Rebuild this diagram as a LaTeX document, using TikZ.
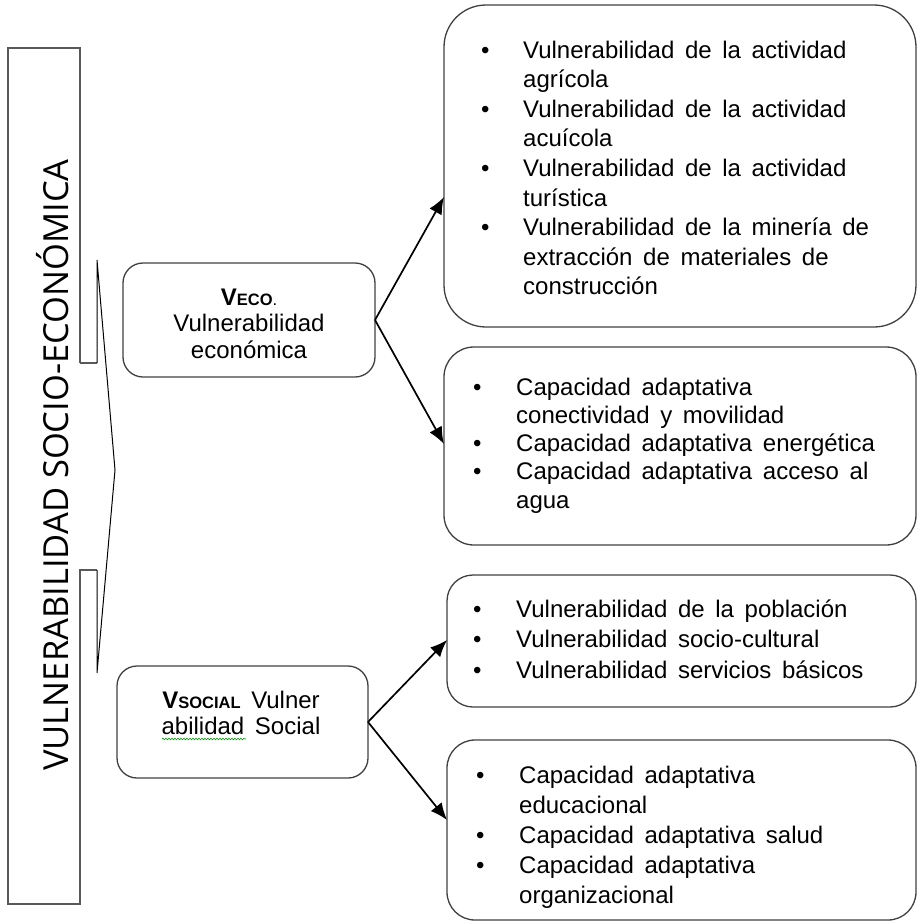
\documentclass[tikz,border=0pt]{standalone}
\usepackage{fontspec}
\setmainfont{Liberation Sans}[WordSpace=1.6]
\newfontfamily\titlefont{Open Sans}
\usetikzlibrary{arrows.meta,decorations.pathmorphing}
\newcommand\bul[1]{\makebox[#1][l]{•}}
\newcommand\ind[1]{\hspace*{#1}}
\newcommand\cl[1]{\hbox to 0pt{\hss #1\hss}}
\begin{document}
\begin{tikzpicture}[x=1pt,y=-1pt,
  box/.style={draw=black!75, line width=1.3pt, inner sep=0pt, outer sep=0pt},
  txt/.style={inner sep=0pt, anchor=base west, font=\fontsize{24}{29}\selectfont},
  ctxt/.style={inner sep=0pt, anchor=base, font=\fontsize{24}{29}\selectfont},
  arr/.style={line width=1.7pt, -{Latex[length=17pt,width=14pt]}}]
\useasboundingbox (0,0) rectangle (919,924);

% left frame with bracket
\draw[line width=1.5pt, draw=black!65] (80,363) -- (80,48) -- (8,48) -- (8,904) -- (80,904) -- (80,570) -- (97,570);
\draw[line width=1.5pt, draw=black!65] (80,363) -- (97,363);
\draw[line width=1pt, line join=miter] (97,570) -- (97,673) -- (115,470) -- (97,260) -- (97,363);
\node[rotate=90, anchor=base, inner sep=0pt, font=\titlefont\fontsize{34.5}{40}\selectfont] (title) at (68,465) {VULNERABILIDAD SOCIO-ECONÓMICA};

% middle boxes
\node[box, rounded corners=20pt, minimum width=252pt, minimum height=114pt] (eco) at (249,320) {};
\node[box, rounded corners=20pt, minimum width=251pt, minimum height=112pt] (soc) at (242.5,722) {};
\node[ctxt] (ecot) at (249,305) {\vtop{\baselineskip=26.5pt
  \cl{\textbf{V}{\fontsize{16.5}{16.5}\selectfont\textbf{ECO}.}}
  \cl{Vulnerabilidad}
  \cl{económica}}};
\node[ctxt] (soct) at (241,708) {\vtop{\baselineskip=26pt
  \cl{\textbf{V}{\fontsize{16.5}{16.5}\selectfont\textbf{SOCIAL}} Vulner}
  \cl{abilidad Social}}};
\draw[green!60!black, line width=0.6pt, decorate, decoration={snake, amplitude=0.8pt, segment length=3pt}] (162,739) -- (246,739);

% right boxes
\node[box, rounded corners=42pt, minimum width=472pt, minimum height=322pt] (b1) at (680,166) {};
\node[box, rounded corners=30pt, minimum width=472pt, minimum height=198pt] (b2) at (680,446) {};
\node[box, rounded corners=26pt, minimum width=469pt, minimum height=132pt] (b3) at (681.5,641) {};
\node[box, rounded corners=28pt, minimum width=469pt, minimum height=180pt] (b4) at (681.5,830) {};

\node[txt] (b1t) at (481,58) {\vtop{\baselineskip=29.6pt
  \hbox{\bul{42pt}Vulnerabilidad de la actividad}
  \hbox{\ind{42pt}agrícola}
  \hbox{\bul{42pt}Vulnerabilidad de la actividad}
  \hbox{\ind{42pt}acuícola}
  \hbox{\bul{42pt}Vulnerabilidad de la actividad}
  \hbox{\ind{42pt}turística}
  \hbox{\bul{42pt}Vulnerabilidad de la minería de}
  \hbox{\ind{42pt}extracción de materiales de}
  \hbox{\ind{42pt}construcción}}};
\node[txt] (b2t) at (473,395) {\vtop{\baselineskip=28.3pt
  \hbox{\bul{43pt}Capacidad adaptativa}
  \hbox{\ind{43pt}conectividad y movilidad}
  \hbox{\bul{43pt}Capacidad adaptativa energética}
  \hbox{\bul{43pt}Capacidad adaptativa acceso al}
  \hbox{\ind{43pt}agua}}};
\node[txt] (b3t) at (473,617) {\vtop{\baselineskip=30.5pt
  \hbox{\bul{43pt}Vulnerabilidad de la población}
  \hbox{\bul{43pt}Vulnerabilidad socio-cultural}
  \hbox{\bul{43pt}Vulnerabilidad servicios básicos}}};
\node[txt] (b4t) at (476,783) {\vtop{\baselineskip=30pt
  \hbox{\bul{43pt}Capacidad adaptativa}
  \hbox{\ind{43pt}educacional}
  \hbox{\bul{43pt}Capacidad adaptativa salud}
  \hbox{\bul{43pt}Capacidad adaptativa}
  \hbox{\ind{43pt}organizacional}}};

% arrows
\coordinate (t1) at (444,197);
\coordinate (t2) at (444,444);
\coordinate (t3) at (447,640);
\coordinate (t4) at (447,820);
\draw[arr] (eco.east) -- (t1);
\draw[arr] (eco.east) -- (t2);
\draw[arr] (soc.east) -- (t3);
\draw[arr] (soc.east) -- (t4);
\end{tikzpicture}
\end{document}
